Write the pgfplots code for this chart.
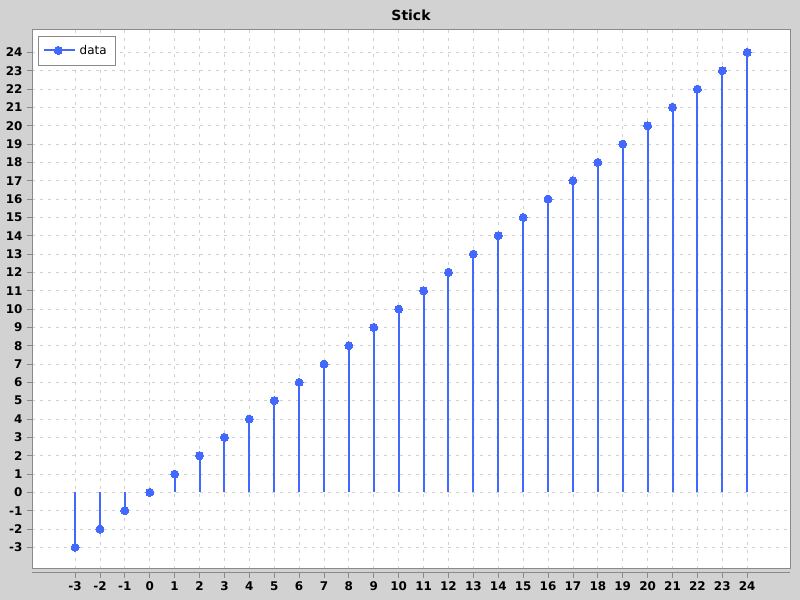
\documentclass[border=0pt]{standalone}
\usepackage{fontspec}
\setmainfont{DejaVu Sans}
\usepackage{pgfplots}
\pgfplotsset{compat=1.18}
\definecolor{bgc}{RGB}{210,210,210}
\definecolor{stem}{RGB}{66,104,255}
\definecolor{bord}{RGB}{138,138,138}
\definecolor{gridc}{RGB}{208,208,208}
\begin{document}
\begin{tikzpicture}[x=1bp,y=1bp]
\fill[bgc] (0,0) rectangle (800,600);
\begin{axis}[
  at={(32bp,31bp)}, anchor=south west,
  width=758bp, height=539bp, scale only axis,
  xmin=-4.73, xmax=25.72, ymin=-4.18, ymax=25.22,
  xtick={-3,...,24}, ytick={-3,...,24},
  axis background/.style={fill=white},
  axis line style={draw=bord, line width=1bp},
  tick align=outside, major tick length=5bp,
  tick style={draw=bord, line width=0.8bp},
  xtick style={yshift=-4bp},
  xticklabel style={yshift=-4bp},
  yticklabel style={xshift=-1bp},
  xtick pos=bottom, ytick pos=left,
  ticklabel style={font=\fontsize{12}{14}\selectfont\bfseries},
  /pgf/number format/assume math mode=true,
  grid=major,
  major grid style={draw=gridc, dash pattern=on 3bp off 5bp, line width=0.8bp},
  title={\fontsize{14}{16}\selectfont\bfseries Stick},
  title style={at={(0.5,1)}, anchor=base, yshift=4bp},
  legend style={at={(0,1)}, anchor=north west, xshift=6bp, yshift=-6bp,
    draw=bord, fill=white, font=\fontsize{12}{14}\selectfont,
    inner xsep=4.5bp, inner ysep=5bp, cells={anchor=west},
    nodes={inner xsep=4bp, inner ysep=4bp}},
  legend image code/.code={
    \path (0bp,0bp) -- (31bp,0bp);
    \draw[#1, mark=none] (2bp,0bp) -- (27bp,0bp);
    \draw[#1, only marks] plot coordinates {(14.5bp,0bp)};
  },
]
\addplot+[ycomb, draw=stem, line width=2bp, mark=*, mark size=4bp,
  mark options={fill=stem, draw=stem, line width=0bp}] coordinates {
(-3,-3) (-2,-2) (-1,-1) (0,0) (1,1) (2,2) (3,3) (4,4) (5,5) (6,6) (7,7)
(8,8) (9,9) (10,10) (11,11) (12,12) (13,13) (14,14) (15,15) (16,16)
(17,17) (18,18) (19,19) (20,20) (21,21) (22,22) (23,23) (24,24)
};
\addlegendentry{data}
\end{axis}
\draw[bord, line width=1bp] (32,27) -- (790,27);
\end{tikzpicture}
\end{document}
